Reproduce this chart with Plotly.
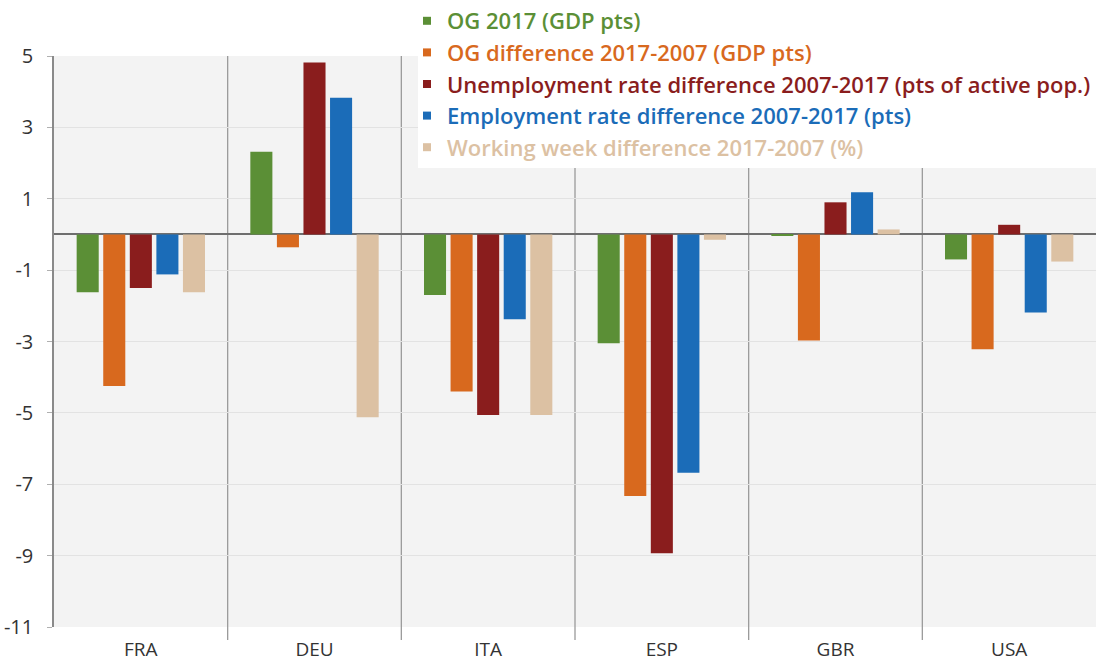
import plotly.graph_objects as go

categories = ["FRA", "DEU", "ITA", "ESP", "GBR", "USA"]

og_2017 = [-1.62, 2.32, -1.70, -3.05, -0.04, -0.70]
og_diff = [-4.25, -0.36, -4.40, -7.33, -2.97, -3.22]
unemp_diff = [-1.50, 4.82, -5.06, -8.93, 0.90, 0.27]
emp_diff = [-1.12, 3.83, -2.38, -6.68, 1.18, -2.19]
week_diff = [-1.62, -5.12, -5.06, -0.15, 0.14, -0.76]

series_names = [
    "OG 2017 (GDP pts)",
    "OG difference 2017-2007 (GDP pts)",
    "Unemployment rate difference 2007-2017 (pts of active pop.)",
    "Employment rate difference 2007-2017 (pts)",
    "Working week difference 2017-2007 (%)",
]
series_values = [og_2017, og_diff, unemp_diff, emp_diff, week_diff]
colors = ["#5b8f36", "#d8691e", "#8a1d1d", "#1b6cb8", "#dcc1a3"]

y_ticks = [5, 3, 1, -1, -3, -5, -7, -9, -11]

W, H = 1104, 662
ML, MR, MT, MB = 54, 8, 56, 35

fig = go.Figure()
for i, (name, vals, col) in enumerate(zip(series_names, series_values, colors)):
    fig.add_trace(go.Bar(
        x=categories, y=vals, marker=dict(color=col, line=dict(width=0)),
        name=name, showlegend=False, legendgroup=f"g{i}",
    ))
# legend entries with small square swatches
for i, (name, col) in enumerate(zip(series_names, colors)):
    fig.add_trace(go.Scatter(
        x=[None], y=[None], mode="markers",
        marker=dict(symbol="square", size=8, color=col),
        name=f'<span style="color:{col}">{name}</span>',
        legendgroup=f"g{i}", showlegend=True,
    ))

shapes = []
plot_w = W - ML - MR
plot_h = H - MT - MB
# white box behind legend
shapes.append(dict(type="rect", xref="paper", yref="paper",
                   x0=(418 - ML) / plot_w, x1=1 + MR / plot_w,
                   y0=1 - (168 - MT) / plot_h, y1=1 + MT / plot_h,
                   fillcolor="white", line=dict(width=0), layer="above"))
# category separators
for k in range(1, len(categories)):
    shapes.append(dict(type="line", xref="x", yref="paper",
                       x0=k - 0.5, x1=k - 0.5, y0=-13 / plot_h, y1=1,
                       line=dict(color="#9a9a9a", width=1.3), layer="below"))

fig.update_layout(
    width=W, height=H,
    margin=dict(l=ML, r=MR, t=MT, b=MB, autoexpand=False),
    paper_bgcolor="white",
    plot_bgcolor="#f3f3f3",
    barmode="group",
    bargap=0.235,
    bargroupgap=0.17,
    font=dict(family="Open Sans, sans-serif", size=16, color="#333333"),
    shapes=shapes,
    showlegend=True,
    legend=dict(
        x=(407 - ML) / plot_w, xanchor="left",
        y=1 + MT / plot_h, yanchor="top",
        bgcolor="rgba(0,0,0,0)",
        font=dict(size=22, weight=600),
        tracegroupgap=6,
        traceorder="normal",
    ),
    xaxis=dict(
        type="category", showgrid=False, zeroline=False, showline=False,
        ticks="", ticklabelstandoff=9,
        tickfont=dict(size=19, color="#333333"),
    ),
    yaxis=dict(
        range=[-11, 5], tickvals=y_ticks, ticktext=[str(v) for v in y_ticks],
        showgrid=True, gridcolor="#e2e2e2", gridwidth=1,
        zeroline=True, zerolinecolor="#6e6e6e", zerolinewidth=1.6,
        showline=True, linecolor="#8a8a8a", linewidth=1.5,
        ticks="outside", ticklen=5, tickcolor="#b0b0b0",
        ticklabelstandoff=10,
        tickfont=dict(size=20, color="#333333"),
    ),
)

fig.write_html("out.html", config={"displayModeBar": False},
               post_script="document.body.style.margin='0';")
